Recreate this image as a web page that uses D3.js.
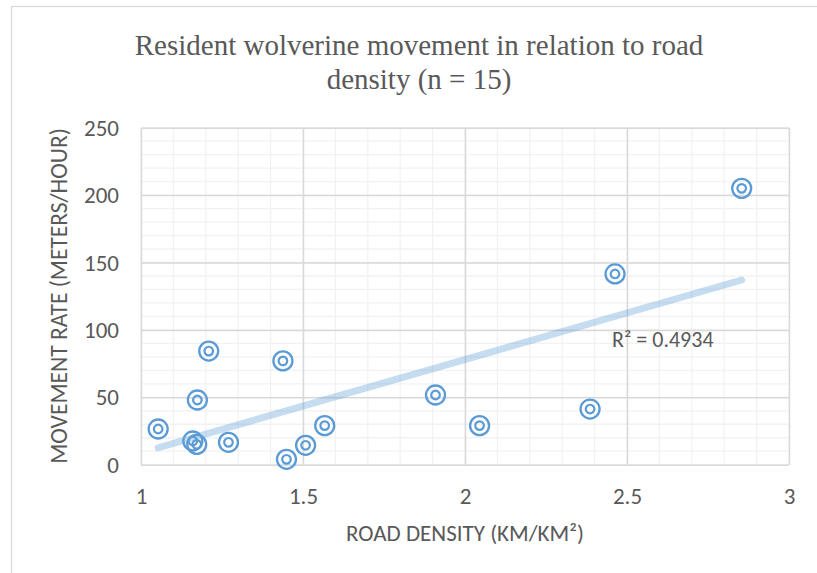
<!DOCTYPE html>
<html>
<head>
<meta charset="utf-8">
<script src="https://cdn.jsdelivr.net/npm/d3@7"></script>
<style>
  html, body { margin: 0; padding: 0; background: #fff; }
  svg { display: block; }
</style>
</head>
<body>
<svg id="chart" width="817" height="573"></svg>
<script>
// ---- Data ----
const titleLines = ["Resident wolverine movement in relation to road", "density (n = 15)"];
const xTitle = "ROAD DENSITY (KM/KM²)";
const yTitle = "MOVEMENT RATE (METERS/HOUR)";
const r2Label = "R² = 0.4934";
const roadDensity = [1.053, 1.209, 1.174, 1.160, 1.172, 1.270, 1.438, 1.449, 1.508, 1.567, 1.909, 2.045, 2.386, 2.463, 2.854];
const movementRate = [26.5, 84.3, 48, 17.6, 15.1, 16.6, 77, 4, 14.4, 29, 51.7, 29, 41.3, 141.5, 205];
const xTicks = [1, 1.5, 2, 2.5, 3];
const yTicks = [0, 50, 100, 150, 200, 250];
const xDomain = [1, 3];
const yDomain = [0, 250];

// ---- Layout ----
const svg = d3.select("#chart");
const plot = { left: 141, right: 789, top: 127.7, bottom: 464.7 };
const x = d3.scaleLinear().domain(xDomain).range([plot.left, plot.right]);
const y = d3.scaleLinear().domain(yDomain).range([plot.bottom, plot.top]);
const textColor = "#595959";
const blue = "#5b9bd5";
const sansFont = "Carlito, 'Open Sans', Lato, sans-serif";

// chart border
svg.append("rect")
  .attr("x", 11.5).attr("y", 6.5)
  .attr("width", 900).attr("height", 700)
  .attr("fill", "#fff").attr("stroke", "#d9d9d9").attr("stroke-width", 1.3);

// minor grid
const xMinor = d3.range(10, 31).map(d => d / 10);
const yMinor = d3.range(0, 251, 10);
const g = svg.append("g");
g.selectAll("line.xminor").data(xMinor).join("line")
  .attr("x1", d => x(d)).attr("x2", d => x(d))
  .attr("y1", plot.top).attr("y2", plot.bottom)
  .attr("stroke", "#f2f2f2").attr("stroke-width", 1.3);
g.selectAll("line.yminor").data(yMinor).join("line")
  .attr("x1", plot.left).attr("x2", plot.right)
  .attr("y1", d => y(d)).attr("y2", d => y(d))
  .attr("stroke", "#f2f2f2").attr("stroke-width", 1.3);

// major grid via axes
const xGrid = d3.axisBottom(x).tickValues(xTicks).tickSize(-(plot.bottom - plot.top)).tickFormat("");
const yGrid = d3.axisLeft(y).tickValues(yTicks).tickSize(-(plot.right - plot.left)).tickFormat("");
svg.append("g").attr("transform", `translate(0,${plot.bottom})`).call(xGrid)
  .call(s => s.select(".domain").remove())
  .selectAll("line").attr("stroke", "#d9d9d9").attr("stroke-width", 1.5);
svg.append("g").attr("transform", `translate(${plot.left},0)`).call(yGrid)
  .call(s => s.select(".domain").remove())
  .selectAll("line").attr("stroke", "#d9d9d9").attr("stroke-width", 1.5);

// tick labels via axes
const xAxis = d3.axisBottom(x).tickValues(xTicks).tickSize(0).tickPadding(0).tickFormat(d3.format("~g"));
const yAxis = d3.axisLeft(y).tickValues(yTicks).tickSize(0).tickPadding(0).tickFormat(d3.format("~g"));
const xa = svg.append("g").attr("transform", `translate(0,${plot.bottom + 39})`).call(xAxis);
xa.select(".domain").remove();
xa.selectAll("text").attr("fill", textColor).attr("font-family", sansFont).attr("font-size", 23).attr("dy", 0);
const ya = svg.append("g").attr("transform", `translate(${plot.left - 22},0)`).call(yAxis);
ya.select(".domain").remove();
ya.selectAll("text").attr("fill", textColor).attr("font-family", sansFont).attr("font-size", 23).attr("dy", "0.33em");

// trendline (least squares from the data)
const n = roadDensity.length;
const mx = d3.mean(roadDensity), my = d3.mean(movementRate);
let sxy = 0, sxx = 0;
for (let i = 0; i < n; i++) { sxy += (roadDensity[i] - mx) * (movementRate[i] - my); sxx += (roadDensity[i] - mx) ** 2; }
const slope = sxy / sxx, intercept = my - slope * mx;
const [xmin, xmax] = d3.extent(roadDensity);
svg.append("line")
  .attr("x1", x(xmin)).attr("y1", y(intercept + slope * xmin))
  .attr("x2", x(xmax)).attr("y2", y(intercept + slope * xmax))
  .attr("stroke", blue).attr("stroke-opacity", 0.35)
  .attr("stroke-width", 7).attr("stroke-linecap", "round");

// points
const pts = svg.append("g").selectAll("g").data(roadDensity.map((d, i) => [d, movementRate[i]])).join("g")
  .attr("transform", d => `translate(${x(d[0])},${y(d[1])})`);
pts.append("circle").attr("r", 9.5).attr("fill", "none").attr("stroke", blue).attr("stroke-width", 2.3);
pts.append("circle").attr("r", 4.3).attr("fill", "none").attr("stroke", blue).attr("stroke-width", 2.2);

// R² label
svg.append("text").attr("x", 612).attr("y", 347)
  .attr("fill", textColor).attr("font-family", sansFont).attr("font-size", 22)
  .text(r2Label);

// title
svg.append("g").selectAll("text").data(titleLines).join("text")
  .attr("x", 419).attr("y", (d, i) => 55 + i * 34)
  .attr("text-anchor", "middle")
  .attr("fill", textColor).attr("font-family", "'Liberation Serif', 'Times New Roman', serif")
  .attr("font-size", 29)
  .text(d => d);

// axis titles
svg.append("text").attr("x", 465).attr("y", 541)
  .attr("text-anchor", "middle").attr("fill", textColor)
  .attr("font-family", sansFont).attr("font-size", 23)
  .text(xTitle);
svg.append("text")
  .attr("transform", "translate(67,296) rotate(-90)")
  .attr("text-anchor", "middle").attr("fill", textColor)
  .attr("font-family", sansFont).attr("font-size", 23.5)
  .text(yTitle);
</script>
</body>
</html>
